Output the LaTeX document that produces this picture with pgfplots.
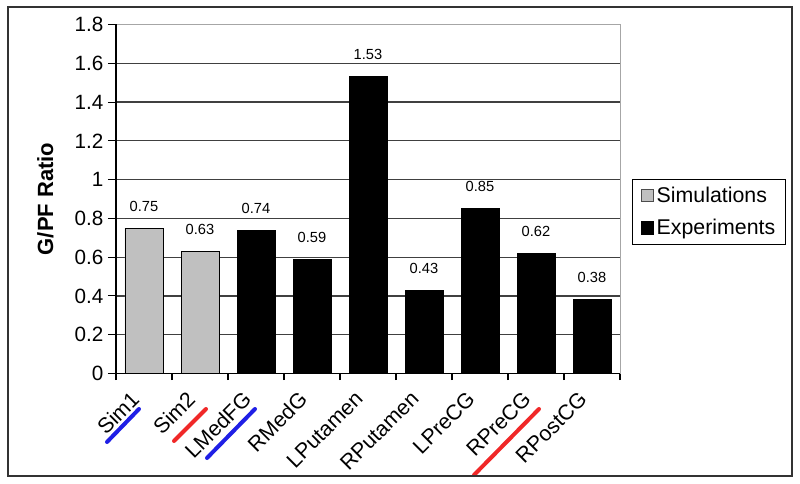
\documentclass[border=0pt]{standalone}
\usepackage{fontspec}
\setmainfont{Liberation Sans}
\usepackage{pgfplots}
\pgfplotsset{compat=1.18}
\definecolor{simgray}{HTML}{C0C0C0}
\definecolor{markblue}{HTML}{1F1FE6}
\definecolor{markred}{HTML}{F02828}

\begin{document}
\begin{tikzpicture}
% pixel frame: 1px = 0.75pt, origin at the axis' lower left corner
\begin{scope}[x=0.75pt,y=-0.75pt,xshift=-87pt,yshift=280.125pt]
  \useasboundingbox (0,0) rectangle (800,483);
\end{scope}

\begin{axis}[
    at={(0,0)}, anchor=south west,
    scale only axis, width=378pt, height=261.75pt,
    ybar, bar width=28.5pt, bar shift=0pt,
    xmin=-0.5, xmax=8.5, ymin=0, ymax=1.8,
    ytick={0,0.2,0.4,0.6,0.8,1,1.2,1.4,1.6,1.8},
    ymajorgrids, grid style={black!75, line width=0.9pt},
    axis line style={black!35, line width=0.6pt},
    xtick={0,...,8},
    xticklabels={Sim1,Sim2,LMedFG,RMedG,LPutamen,RPutamen,LPreCG,RPreCG,RPostCG},
    major x tick style={draw=none},
    minor xtick={-0.5,0.5,...,8.5},
    xtick pos=bottom, ytick pos=left,
    tick align=outside, major tick length=6pt, minor tick length=5pt,
    tick style={black, line width=0.8pt},
    /pgf/number format/assume math mode=true,
    tick label style={font=\fontsize{15.5}{18}\selectfont},
    xticklabel style={font=\fontsize{16}{19}\selectfont, xshift=-10.75pt, yshift=-1.5pt, rotate=45, anchor=north east},
    ylabel={\bfseries G/PF Ratio},
    ylabel style={font=\fontsize{16.5}{19}\selectfont, at={(axis description cs:-0.14,0.5)}, anchor=center},
    nodes near coords,
    every node near coord/.append style={font=\fontsize{11}{13}\selectfont, anchor=center,
      yshift=16.5pt, black,
      /pgf/number format/fixed, /pgf/number format/precision=2,
      /pgf/number format/fixed zerofill},
    legend style={at={(1,0.463)}, anchor=west, xshift=9pt, draw=black, line width=0.8pt,
      font=\fontsize{16}{19}\selectfont, inner xsep=6pt, inner ysep=3.5pt, row sep=7pt,
      cells={anchor=west}},
  ]
  \addplot[fill=simgray, draw=black, line width=0.6pt,
    legend image code/.code={\draw[fill=simgray, draw=black!70, line width=0.6pt] (0pt,-4.5pt) rectangle (9.5pt,5pt);}]
    coordinates {(0,0.75) (1,0.63)};
  \addlegendentry{Simulations}
  \addplot[fill=black, draw=black, line width=0.6pt,
    legend image code/.code={\draw[fill=black, draw=black, line width=0.6pt] (0pt,-4.5pt) rectangle (9.5pt,5pt);}]
    coordinates {(2,0.74) (3,0.59) (4,1.53) (5,0.43) (6,0.85) (7,0.62) (8,0.38)};
  \addlegendentry{Experiments}
\end{axis}

\begin{scope}[x=0.75pt,y=-0.75pt,xshift=-87pt,yshift=280.125pt]
  \draw[black, line width=0.8pt] (116,24.5) -- (116,373.5) -- (620,373.5);
  \begin{scope}[line width=3pt, line cap=round]
    \draw[markblue] (107,442) -- (139,409);
    \draw[markred] (174,441) -- (206,409);
    \draw[markblue] (207,458) -- (255,409);
    \draw[markred] (474,475) -- (539,409);
  \end{scope}
  \draw[black!80, line width=1pt] (8,7) rectangle (792,476);
\end{scope}
\end{tikzpicture}
\end{document}
